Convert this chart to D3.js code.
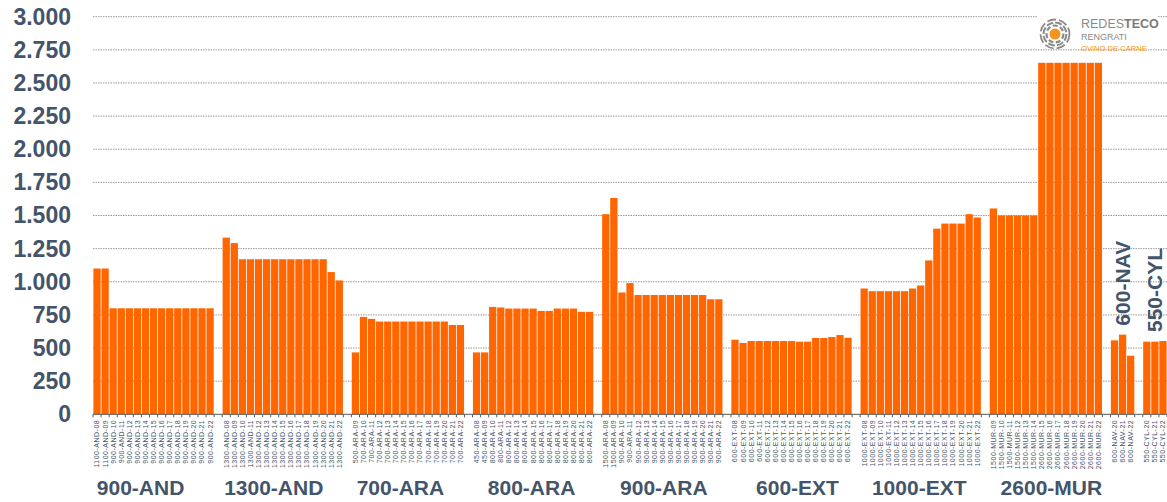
<!DOCTYPE html>
<html>
<head>
<meta charset="utf-8">
<script src="https://cdn.jsdelivr.net/npm/d3@7"></script>
<style>
  html, body { margin: 0; padding: 0; background: #ffffff; }
  svg { display: block; font-family: "Liberation Sans", Arial, Helvetica, sans-serif; }
</style>
</head>
<body>
<svg id="chart" width="1167" height="502"></svg>
<script>
// ---------- DATA ----------
const groupNames = ["900-AND", "1300-AND", "700-ARA", "800-ARA", "900-ARA", "600-EXT", "1000-EXT", "2600-MUR", "600-NAV", "550-CYL"];
const groupSizes = [15, 15, 14, 15, 15, 15, 15, 14, 3, 3];
const verticalGroupLabels = ["600-NAV", "550-CYL"];

const categories = [
  "1100-AND-08","1100-AND-09","900-AND-10","900-AND-11","900-AND-12","900-AND-13","900-AND-14","900-AND-15","900-AND-16","900-AND-17","900-AND-18","900-AND-19","900-AND-20","900-AND-21","900-AND-22",
  "1300-AND-08","1300-AND-09","1300-AND-10","1300-AND-11","1300-AND-12","1300-AND-13","1300-AND-14","1300-AND-15","1300-AND-16","1300-AND-17","1300-AND-18","1300-AND-19","1300-AND-20","1300-AND-21","1300-AND-22",
  "500-ARA-09","700-ARA-10","700-ARA-11","700-ARA-12","700-ARA-13","700-ARA-14","700-ARA-15","700-ARA-16","700-ARA-17","700-ARA-18","700-ARA-19","700-ARA-20","700-ARA-21","700-ARA-22",
  "450-ARA-08","450-ARA-09","800-ARA-10","800-ARA-11","800-ARA-12","800-ARA-13","800-ARA-14","800-ARA-15","800-ARA-16","800-ARA-17","800-ARA-18","800-ARA-19","800-ARA-20","800-ARA-21","800-ARA-22",
  "1500-ARA-08","1500-ARA-09","900-ARA-10","900-ARA-11","900-ARA-12","900-ARA-13","900-ARA-14","900-ARA-15","900-ARA-16","900-ARA-17","900-ARA-18","900-ARA-19","900-ARA-20","900-ARA-21","900-ARA-22",
  "600-EXT-08","600-EXT-09","600-EXT-10","600-EXT-11","600-EXT-12","600-EXT-13","600-EXT-14","600-EXT-15","600-EXT-16","600-EXT-17","600-EXT-18","600-EXT-19","600-EXT-20","600-EXT-21","600-EXT-22",
  "1000-EXT-08","1000-EXT-09","1000-EXT-10","1000-EXT-11","1000-EXT-12","1000-EXT-13","1000-EXT-14","1000-EXT-15","1000-EXT-16","1000-EXT-17","1000-EXT-18","1000-EXT-19","1000-EXT-20","1000-EXT-21","1000-EXT-22",
  "1500-MUR-09","1500-MUR-10","1500-MUR-11","1500-MUR-12","1500-MUR-13","1500-MUR-14","2600-MUR-15","2600-MUR-16","2600-MUR-17","2600-MUR-18","2600-MUR-19","2600-MUR-20","2600-MUR-21","2600-MUR-22",
  "600-NAV-20","600-NAV-21","600-NAV-22",
  "550-CYL-20","550-CYL-21","550-CYL-22"
];

const values = [
  1100,1100,800,800,800,800,800,800,800,800,800,800,800,800,800,
  1333,1292,1170,1170,1170,1170,1170,1170,1170,1170,1170,1170,1170,1073,1010,
  467,735,720,700,700,700,700,700,700,700,700,700,674,674,
  467,467,810,806,798,798,798,798,780,780,798,798,798,773,773,
  1510,1632,919,990,900,900,900,900,900,900,900,900,900,868,868,
  563,538,553,553,553,553,553,553,548,548,576,576,583,598,578,
  949,929,929,929,929,929,949,972,1161,1401,1439,1439,1439,1510,1485,
  1553,1500,1500,1500,1500,1500,2652,2652,2652,2652,2652,2652,2652,2652,
  558,601,442,
  548,548,553
];

const yTicks = [0, 250, 500, 750, 1000, 1250, 1500, 1750, 2000, 2250, 2500, 2750, 3000];
const logoLines = ["REDES", "TECO", "RENGRATI", "OVINO DE CARNE"];

// ---------- BUILD ----------
const W = 1167, H = 502;
const margin = { left: 93, right: 0, top: 16.7, bottom: 87.7 };
const textColor = "#44546A";
const barColor = "#FF6600";
// horizontal nudge of the group captions (layout only)
const captionNudge = [-13, -9, -7.5, -1.5, 1.5, 6, -1.5, 5.5];

// slots: categories with one empty slot between groups
const rows = [];
const slots = [];
let k = 0;
groupNames.forEach((g, gi) => {
  if (gi > 0) slots.push("__gap" + gi);
  for (let i = 0; i < groupSizes[gi]; i++) {
    rows.push({ cat: categories[k], value: values[k], group: g });
    slots.push(categories[k]);
    k++;
  }
});

const svg = d3.select("#chart");

const x = d3.scaleBand()
  .domain(slots)
  .range([margin.left, W - margin.right])
  .paddingInner(0.1)
  .paddingOuter(0.05);

const y = d3.scaleLinear()
  .domain([0, 3000])
  .range([H - margin.bottom, margin.top]);

const locale = d3.formatLocale({ decimal: ",", thousands: ".", grouping: [3], currency: ["", "€"] });
const fmt = locale.format(",.0f");

// gridlines
svg.append("g")
  .selectAll("line")
  .data(yTicks.filter(d => d > 0))
  .join("line")
  .attr("x1", margin.left)
  .attr("x2", W)
  .attr("y1", d => y(d))
  .attr("y2", d => y(d))
  .attr("stroke", "#9a9a9a")
  .attr("stroke-width", 1)
  .attr("stroke-dasharray", "1.5,1");

// y axis labels
const yAxis = d3.axisLeft(y).tickValues(yTicks).tickFormat(fmt).tickSize(0).tickPadding(0);
const yg = svg.append("g").attr("transform", `translate(${margin.left - 22},0)`).call(yAxis);
yg.select(".domain").remove();
yg.selectAll("text")
  .attr("fill", textColor)
  .attr("font-size", "23px")
  .attr("font-weight", "bold")
  .attr("font-family", "'Liberation Sans', Arial, sans-serif");

// bars
svg.append("g")
  .selectAll("rect")
  .data(rows)
  .join("rect")
  .attr("x", d => x(d.cat))
  .attr("width", x.bandwidth())
  .attr("y", d => y(d.value))
  .attr("height", d => y(0) - y(d.value))
  .attr("fill", barColor);

// axis line
const y0 = y(0);
svg.append("line")
  .attr("x1", margin.left).attr("x2", W)
  .attr("y1", y0).attr("y2", y0)
  .attr("stroke", "#595959").attr("stroke-width", 1);

// tick marks at bar boundaries
const step = x.step();
const boundaries = [];
rows.forEach((d, i) => {
  boundaries.push(x(d.cat) - (step - x.bandwidth()) / 2);
  const next = rows[i + 1];
  if (!next || next.group !== d.group) boundaries.push(x(d.cat) + x.bandwidth() + (step - x.bandwidth()) / 2);
});
svg.append("g")
  .selectAll("line")
  .data(boundaries)
  .join("line")
  .attr("x1", d => d).attr("x2", d => d)
  .attr("y1", y0).attr("y2", y0 + 3)
  .attr("stroke", "#595959").attr("stroke-width", 1);

// category tick labels (rotated)
const xAxis = d3.axisBottom(x).tickValues(categories).tickSize(0).tickPadding(0);
const xg = svg.append("g").attr("transform", `translate(0,${y0})`).call(xAxis);
xg.select(".domain").remove();
xg.selectAll(".tick text")
  .attr("fill", textColor)
  .attr("font-size", "7px")
  .attr("letter-spacing", "0.5px")
  .attr("font-family", "'Liberation Sans', Arial, sans-serif")
  .attr("text-anchor", "end")
  .attr("transform", "rotate(-90)")
  .attr("x", -5.5)
  .attr("y", 0)
  .attr("dy", "0.35em");

// group labels
groupNames.forEach((g, gi) => {
  const gr = rows.filter(r => r.group === g);
  const x1 = x(gr[0].cat);
  const x2 = x(gr[gr.length - 1].cat) + x.bandwidth();
  const cx = (x1 + x2) / 2;
  if (verticalGroupLabels.includes(g)) {
    const ymax = y(d3.max(gr, r => r.value));
    svg.append("text")
      .attr("transform", `translate(${cx},${ymax - 9}) rotate(-90)`)
      .attr("dy", "0.35em")
      .attr("text-anchor", "start")
      .attr("font-size", "21px")
      .attr("font-weight", "bold")
      .attr("fill", textColor)
      .text(g);
  } else {
    svg.append("text")
      .attr("x", cx + (captionNudge[gi] || 0))
      .attr("y", 495)
      .attr("text-anchor", "middle")
      .attr("font-size", "21px")
      .attr("font-weight", "bold")
      .attr("fill", textColor)
      .text(g);
  }
});

// logo
const logo = svg.append("g").attr("transform", "translate(1055,34)");
logo.append("rect").attr("x", -18).attr("y", -18).attr("width", 120).attr("height", 30).attr("fill", "#fff");
[[8.5, "5,2.5", 2.2], [11.5, "7,2", 2], [14.5, "9,3", 1.8]].forEach(([r, da, sw]) => {
  logo.append("circle").attr("r", r).attr("fill", "none")
    .attr("stroke", "#8a8a8a").attr("stroke-width", sw).attr("stroke-dasharray", da);
});
logo.append("circle").attr("r", 5.5).attr("fill", "#F7941D");
const lt = logo.append("text").attr("x", 26).attr("y", -6).attr("font-size", "12.5px").attr("fill", "#8a8a8a");
lt.append("tspan").text(logoLines[0]);
lt.append("tspan").attr("font-weight", "bold").attr("fill", "#7a7a7a").text(logoLines[1]);
logo.append("text").attr("x", 26).attr("y", 6).attr("font-size", "9px").attr("fill", "#8a8a8a").text(logoLines[2]);
logo.append("text").attr("x", 26).attr("y", 17).attr("font-size", "7.6px").attr("fill", "#F7941D").text(logoLines[3]);
</script>
</body>
</html>
